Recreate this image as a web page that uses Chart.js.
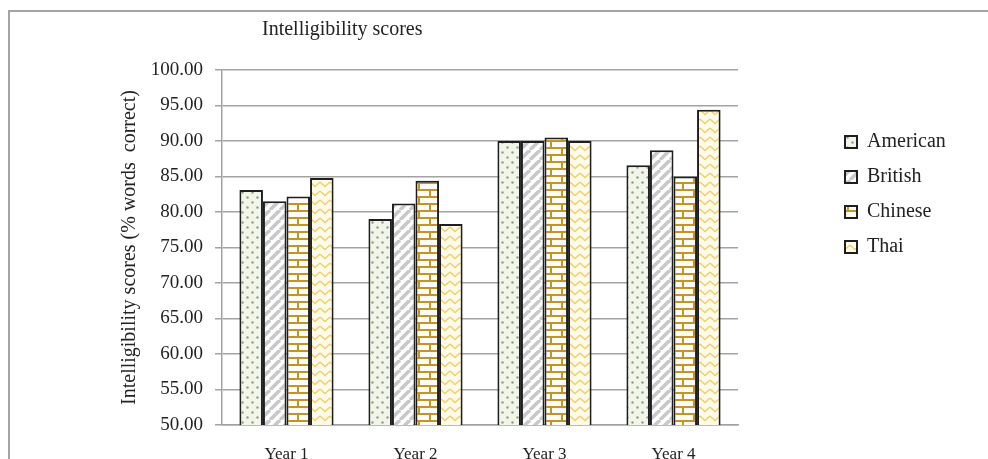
<!DOCTYPE html>
<html>
<head>
<meta charset="utf-8">
<script src="https://cdn.jsdelivr.net/npm/chart.js@4"></script>
<style>
  html, body { margin: 0; padding: 0; background: #fff; }
  #wrap { position: relative; width: 988px; height: 459px; }
  #frame { position: absolute; left: 8px; top: 10px; right: 0; bottom: 0;
           border-top: 2px solid #a3a3a3; border-left: 2px solid #a3a3a3; pointer-events: none; }
</style>
</head>
<body>
<div id="wrap">
  <canvas id="myChart" width="988" height="459"></canvas>
  <div id="frame"></div>
</div>
<script>
// 데이터
const categories = ["Year 1", "Year 2", "Year 3", "Year 4"];
const american = [83.1, 79.0, 90.0, 86.6];
const british = [81.5, 81.2, 90.0, 88.7];
const chinese = [82.2, 84.4, 90.5, 85.0];
const thai = [84.8, 78.3, 90.0, 94.4];
const yTicks = [50, 55, 60, 65, 70, 75, 80, 85, 90, 95, 100];

const SERIF = "'Liberation Serif', 'DejaVu Serif', serif";

// 패턴 만들기
function makePattern(w, h, draw) {
    const c = document.createElement("canvas");
    c.width = w;
    c.height = h;
    draw(c.getContext("2d"));
    return document.createElement("canvas").getContext("2d").createPattern(c, "repeat");
}

const dotsPattern = makePattern(10, 10, function (g) {
    g.fillStyle = "#f1f5ea";
    g.fillRect(0, 0, 10, 10);
    g.fillStyle = "#8fa17c";
    g.beginPath(); g.arc(2.5, 2.5, 1.2, 0, Math.PI * 2); g.fill();
    g.beginPath(); g.arc(7.5, 7.5, 1.2, 0, Math.PI * 2); g.fill();
});

const stripePattern = makePattern(10, 10, function (g) {
    g.fillStyle = "#ffffff";
    g.fillRect(0, 0, 10, 10);
    g.strokeStyle = "#c8c8c8";
    g.lineWidth = 3.5;
    for (let k = -10; k <= 20; k += 10) {
        g.beginPath(); g.moveTo(k, 10); g.lineTo(k + 10, 0); g.stroke();
    }
});

const brickPattern = makePattern(22, 14, function (g) {
    g.fillStyle = "#fffdf5";
    g.fillRect(0, 0, 22, 14);
    g.fillStyle = "#c39427";
    g.fillRect(0, 0, 22, 2);
    g.fillRect(0, 7, 22, 2);
    g.fillRect(0, 0, 2, 7);
    g.fillRect(11, 7, 2, 7);
});

const zigzagPattern = makePattern(10, 9, function (g) {
    g.fillStyle = "#fffbea";
    g.fillRect(0, 0, 10, 9);
    g.strokeStyle = "#f0d06a";
    g.lineWidth = 1.4;
    g.beginPath(); g.moveTo(0, 2); g.lineTo(5, 6.5); g.lineTo(10, 2); g.stroke();
});

// 레이아웃 미세 조정 (범례/제목 위치)
const nudge = {
    id: "nudge",
    beforeInit(chart) {
        const fit = chart.legend.fit;
        chart.legend.fit = function () {
            fit.call(this);
            this.width = 250;
        };
    },
    afterLayout(chart) {
        const lg = chart.legend;
        lg.left = 830; lg.right = 988;
        lg.top = 117; lg.bottom = 320;
        const t = chart.titleBlock;
        t.left = 262; t.right = 700;
    }
};

const ctx = document.getElementById("myChart").getContext("2d");

new Chart(ctx, {
    type: "bar",
    data: {
        labels: categories,
        datasets: [
            { label: "American", data: american, backgroundColor: dotsPattern },
            { label: "British", data: british, backgroundColor: stripePattern },
            { label: "Chinese", data: chinese, backgroundColor: brickPattern },
            { label: "Thai", data: thai, backgroundColor: zigzagPattern }
        ]
    },
    options: {
        responsive: false,
        animation: false,
        layout: { padding: { left: 100, top: 0, right: 0, bottom: 0 } },
        datasets: {
            bar: {
                borderColor: "#1e1e1e",
                borderWidth: 2,
                barPercentage: 1,
                categoryPercentage: 0.73
            }
        },
        scales: {
            x: {
                grid: { display: false },
                border: { display: true, color: "#a3a3a3", width: 1.5 },
                ticks: { color: "#222", padding: 11, font: { family: SERIF, size: 17 } },
                afterFit(scale) { scale.height = 34; }
            },
            y: {
                min: 50,
                max: 100,
                afterBuildTicks(scale) { scale.ticks = yTicks.map(v => ({ value: v })); },
                grid: { color: "#a3a3a3", lineWidth: 1.5, tickLength: 7 },
                border: { display: true, color: "#a3a3a3", width: 1.5 },
                ticks: {
                    color: "#222",
                    padding: 12,
                    font: { family: SERIF, size: 19 },
                    callback: v => Number(v).toFixed(2)
                },
                title: {
                    display: true,
                    text: "Intelligibility scores (% words  correct)",
                    color: "#222",
                    padding: { top: 18, bottom: 0 },
                    font: { family: SERIF, size: 20 }
                },
                afterFit(scale) { scale.width = 122; }
            }
        },
        plugins: {
            title: {
                display: true,
                text: "Intelligibility scores",
                align: "start",
                color: "#222",
                padding: { top: 18, bottom: 28 },
                font: { family: SERIF, size: 20, weight: "normal" }
            },
            legend: {
                position: "right",
                align: "start",
                labels: {
                    color: "#222",
                    boxWidth: 12,
                    boxHeight: 12,
                    padding: 15,
                    font: { family: SERIF, size: 20 }
                }
            },
            tooltip: { enabled: true }
        }
    },
    plugins: [nudge]
});
</script>
</body>
</html>
